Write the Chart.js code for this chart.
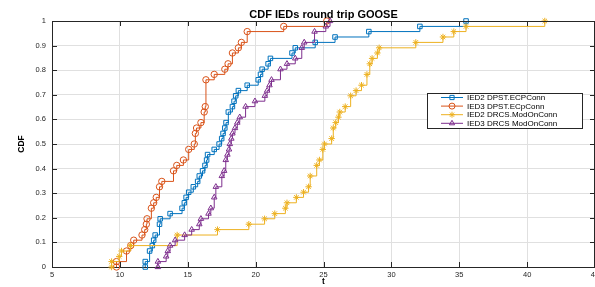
<!DOCTYPE html>
<html lang="en">
<head>
<meta charset="UTF-8">
<title>CDF IEDs round trip GOOSE</title>
<script src="https://cdn.jsdelivr.net/npm/chart.js"></script>
<style>
    html, body { margin: 0; padding: 0; overflow: hidden; background: #fff; }
</style>
</head>
<body>
<canvas id="cdfChart" width="600" height="287"></canvas>
<script>
    const ied2DpstT = [11.87, 11.87, 12.19, 12.39, 12.49, 12.6, 12.92, 12.97, 13.7, 14.58, 14.75, 14.88, 15.07, 15.41, 15.73, 15.85, 16.09, 16.27, 16.39, 16.46, 16.95, 17.31, 17.5, 17.6, 17.73, 17.82, 17.99, 18.29, 18.41, 18.53, 18.73, 19.38, 20.19, 20.36, 20.48, 20.92, 21.09, 22.68, 22.92, 24.39, 25.85, 28.34, 32.1, 35.5];
    const ied2DpstF = [0, 0.022, 0.065, 0.087, 0.109, 0.13, 0.174, 0.196, 0.217, 0.239, 0.261, 0.283, 0.304, 0.326, 0.348, 0.37, 0.391, 0.413, 0.435, 0.457, 0.478, 0.5, 0.522, 0.543, 0.565, 0.587, 0.63, 0.652, 0.674, 0.696, 0.717, 0.739, 0.761, 0.783, 0.804, 0.826, 0.848, 0.87, 0.891, 0.913, 0.935, 0.957, 0.978, 1.0];

    const ied3DpstT = [9.75, 9.75, 10.49, 10.8, 11.02, 11.63, 11.83, 11.95, 12.0, 12.32, 12.49, 12.68, 12.92, 13.09, 13.95, 14.19, 14.68, 15.07, 15.48, 15.56, 15.65, 15.97, 16.21, 16.29, 16.34, 16.95, 17.73, 17.97, 18.29, 18.73, 18.95, 19.38, 22.07, 25.24];
    const ied3DpstF = [0, 0.022, 0.065, 0.087, 0.109, 0.13, 0.152, 0.174, 0.196, 0.239, 0.261, 0.283, 0.326, 0.348, 0.391, 0.413, 0.435, 0.478, 0.5, 0.543, 0.565, 0.587, 0.63, 0.652, 0.761, 0.783, 0.804, 0.826, 0.87, 0.891, 0.913, 0.957, 0.978, 1.0];

    const ied2DrcsT = [9.39, 9.39, 9.95, 10.12, 10.78, 14.22, 17.19, 19.5, 20.66, 21.41, 22.19, 22.31, 23.0, 23.53, 23.9, 24.02, 24.5, 24.7, 24.95, 25.07, 25.6, 25.72, 25.9, 26.1, 26.2, 26.6, 27.0, 27.4, 27.8, 28.2, 28.41, 28.58, 28.97, 29.1, 31.8, 33.8, 34.6, 35.5, 41.3];
    const ied2DrcsF = [0, 0.022, 0.043, 0.065, 0.087, 0.13, 0.152, 0.174, 0.196, 0.217, 0.239, 0.261, 0.283, 0.304, 0.326, 0.37, 0.413, 0.435, 0.478, 0.5, 0.522, 0.565, 0.587, 0.609, 0.63, 0.652, 0.696, 0.717, 0.739, 0.783, 0.826, 0.848, 0.87, 0.891, 0.913, 0.935, 0.957, 0.978, 1.0];

    const ied3DrcsT = [12.8, 12.8, 13.41, 13.53, 13.7, 14.07, 14.77, 15.29, 15.85, 15.97, 16.53, 16.7, 16.95, 17.07, 17.51, 17.68, 17.8, 17.92, 18.04, 18.1, 18.21, 18.29, 18.48, 18.65, 18.83, 19.26, 19.95, 20.68, 20.85, 21.02, 21.17, 21.83, 22.31, 22.92, 23.4, 23.58, 24.34, 25.17, 25.48];
    const ied3DrcsF = [0, 0.022, 0.043, 0.065, 0.087, 0.109, 0.13, 0.152, 0.174, 0.196, 0.217, 0.239, 0.283, 0.326, 0.37, 0.391, 0.435, 0.457, 0.478, 0.5, 0.522, 0.543, 0.565, 0.587, 0.609, 0.652, 0.674, 0.696, 0.717, 0.739, 0.761, 0.804, 0.826, 0.848, 0.891, 0.913, 0.957, 0.978, 1.0];

    const seriesLabels = ['IED2 DPST.ECPConn', 'IED3 DPST.ECpConn', 'IED2 DRCS.ModOnConn', 'IED3 DRCS ModOnConn'];
    const xTicks = [5, 10, 15, 20, 25, 30, 35, 40, 45];
    const yTicks = [0, 0.1, 0.2, 0.3, 0.4, 0.5, 0.6, 0.7, 0.8, 0.9, 1];

    const axisColor = '#262626';
    const fontFamily = '"Liberation Sans", Arial, Helvetica, sans-serif';

    function pts(ts, fs) {
        return ts.map((t, i) => ({x: t, y: fs[i]}));
    }

    function series(label, ts, fs, color, style, order) {
        return {
            label: label,
            data: pts(ts, fs),
            borderColor: color,
            borderWidth: 1,
            stepped: 'before',
            fill: false,
            pointStyle: style,
            pointRadius: 3.2,
            pointBorderWidth: 1,
            pointBorderColor: color,
            pointBackgroundColor: 'rgba(255,255,255,0)',
            clip: false,
            order: order
        };
    }

    // MATLAB-ish box: top line, inward ticks, title above the axes, legend
    const boxPlugin = {
        id: 'boxPlugin',
        afterDraw(chart) {
            const ctx = chart.ctx;
            const a = chart.chartArea;
            const xs = chart.scales.x, ys = chart.scales.y;
            ctx.save();
            ctx.strokeStyle = axisColor;
            ctx.lineWidth = 1;
            ctx.beginPath();
            ctx.moveTo(a.left, a.top + 0.5);
            ctx.lineTo(a.right, a.top + 0.5);
            ctx.moveTo(a.right - 0.5, a.top);
            ctx.lineTo(a.right - 0.5, a.bottom);
            xTicks.forEach(v => {
                const px = Math.round(xs.getPixelForValue(v)) + 0.5;
                ctx.moveTo(px, a.bottom);
                ctx.lineTo(px, a.bottom - 5);
                ctx.moveTo(px, a.top);
                ctx.lineTo(px, a.top + 5);
            });
            yTicks.forEach(v => {
                const py = Math.round(ys.getPixelForValue(v)) + 0.5;
                ctx.moveTo(a.left, py);
                ctx.lineTo(a.left + 5, py);
                ctx.moveTo(a.right, py);
                ctx.lineTo(a.right - 5, py);
            });
            ctx.stroke();

            ctx.fillStyle = '#000';
            ctx.font = 'bold 11px ' + fontFamily;
            ctx.textAlign = 'center';
            ctx.textBaseline = 'middle';
            ctx.fillText('CDF IEDs round trip GOOSE', (a.left + a.right) / 2, 15);

            // legend box
            const lx = 427, ly = 93, lw = 155, lh = 35;
            ctx.fillStyle = '#fff';
            ctx.fillRect(lx, ly, lw, lh);
            ctx.strokeStyle = axisColor;
            ctx.strokeRect(lx + 0.5, ly + 0.5, lw, lh);
            ctx.font = '8px ' + fontFamily;
            ctx.textAlign = 'left';
            chart.data.datasets.forEach((ds, i) => {
                const y = ly + 4.5 + i * 8.6;
                ctx.strokeStyle = ds.borderColor;
                ctx.lineWidth = 1;
                ctx.beginPath();
                ctx.moveTo(lx + 14, y);
                ctx.lineTo(lx + 36, y);
                ctx.stroke();
                ctx.fillStyle = 'rgba(255,255,255,0)';
                Chart.helpers.drawPoint(ctx, {
                    pointStyle: ds.pointStyle,
                    radius: 3,
                    borderWidth: 1
                }, lx + 25, y);
                ctx.fillStyle = '#000';
                ctx.fillText(ds.label, lx + 40, y + 0.5);
            });
            ctx.restore();
        }
    };

    const ctx1 = document.getElementById('cdfChart').getContext('2d');
    const cdfChart = new Chart(ctx1, {
        type: 'line',
        data: {
            datasets: [
                series(seriesLabels[0], ied2DpstT, ied2DpstF, '#0072BD', 'rect', 4),
                series(seriesLabels[1], ied3DpstT, ied3DpstF, '#D95319', 'circle', 3),
                series(seriesLabels[2], ied2DrcsT, ied2DrcsF, '#EDB120', 'star', 2),
                series(seriesLabels[3], ied3DrcsT, ied3DrcsF, '#7E2F8E', 'triangle', 1)
            ]
        },
        options: {
            responsive: false,
            animation: false,
            devicePixelRatio: 1,
            layout: {padding: {left: 0, right: 3, top: 21, bottom: 0}},
            plugins: {
                legend: {display: false},
                tooltip: {enabled: false}
            },
            scales: {
                x: {
                    type: 'linear',
                    min: 5,
                    max: 45,
                    afterBuildTicks: s => { s.ticks = xTicks.map(v => ({value: v})); },
                    afterFit: s => { s.height = 20; s.paddingLeft = 0; s.paddingRight = 0; },
                    ticks: {
                        autoSkip: false,
                        maxRotation: 0,
                        padding: 3,
                        color: axisColor,
                        font: {family: fontFamily, size: 7.5}
                    },
                    grid: {color: '#e0e0e0', drawTicks: false},
                    border: {color: axisColor, width: 1},
                    title: {
                        display: true,
                        text: 't',
                        color: '#000',
                        padding: 0,
                        font: {family: fontFamily, size: 8.5, weight: 'bold'}
                    }
                },
                y: {
                    min: 0,
                    max: 1,
                    afterBuildTicks: s => { s.ticks = yTicks.map(v => ({value: v})); },
                    afterFit: s => { s.width = 52; s.paddingTop = 0; s.paddingBottom = 0; },
                    ticks: {
                        autoSkip: false,
                        padding: 6,
                        color: axisColor,
                        font: {family: fontFamily, size: 7.5},
                        callback: v => String(Math.round(v * 10) / 10)
                    },
                    grid: {color: '#e0e0e0', drawTicks: false},
                    border: {color: axisColor, width: 1},
                    title: {
                        display: true,
                        text: 'CDF',
                        color: '#000',
                        padding: {top: 17, bottom: 0},
                        font: {family: fontFamily, size: 8.5, weight: 'bold'}
                    }
                }
            }
        },
        plugins: [boxPlugin]
    });
</script>
</body>
</html>
